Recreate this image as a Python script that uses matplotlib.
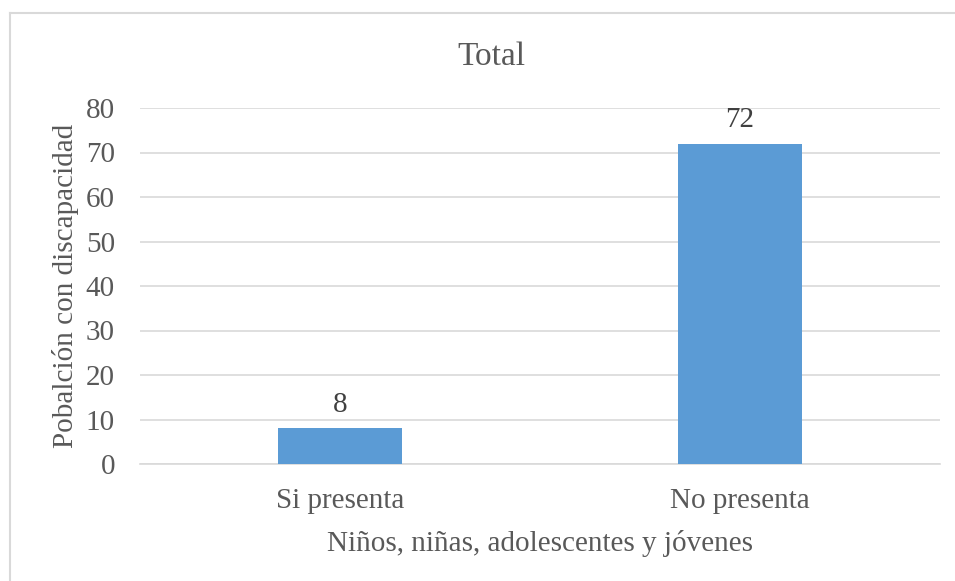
import matplotlib.pyplot as plt
import numpy as np

categories = ["Si presenta", "No presenta"]
values = [8, 72]

plt.rcParams['font.family'] = ['Liberation Serif', 'DejaVu Serif']
txt = '#595959'

fig = plt.figure(figsize=[9.55, 5.81], dpi=100)
ax = fig.add_axes([140/955, 1-464/581, 800/955, 356/581])

x = np.arange(len(categories))
bars = ax.bar(x, values, width=0.31, color='#5B9BD5', zorder=3)
for b, v in zip(bars, values):
    ax.text(b.get_x() + b.get_width()/2, v + 2.3, str(v), ha='center', va='bottom',
            fontsize=21, color='#404040')

ax.set_xlim(-0.5, 1.5)
ax.set_ylim(0, 80)
ax.set_yticks(np.arange(0, 81, 10))
ax.set_xticks(x)
ax.set_xticklabels(categories)
ax.tick_params(axis='both', length=0, labelsize=21, labelcolor=txt)
ax.tick_params(axis='x', pad=17)
ax.tick_params(axis='y', pad=18)
ax.grid(axis='y', color='#D9D9D9', linewidth=1.2, zorder=0)
for s in ['top', 'right', 'left']:
    ax.spines[s].set_visible(False)
ax.spines['bottom'].set_color('#D9D9D9')
ax.spines['bottom'].set_linewidth(1.2)

fig.text(491/955, 1-57/581, "Total", fontsize=24, color=txt, ha='center', va='center')
ax.set_xlabel("Niños, niñas, adolescentes y jóvenes", fontsize=21, color=txt, labelpad=12)
ax.set_ylabel("Pobalción con discapacidad", fontsize=21, color=txt, labelpad=5)

# chart frame (top and left edges visible, rest cut off)
fig.add_artist(plt.Line2D([10/955, 10/955], [0, 1-13/581], color='#D9D9D9', linewidth=1.5))
fig.add_artist(plt.Line2D([10/955, 1], [1-13/581, 1-13/581], color='#D9D9D9', linewidth=1.5))

plt.savefig('out.png', dpi=100)
